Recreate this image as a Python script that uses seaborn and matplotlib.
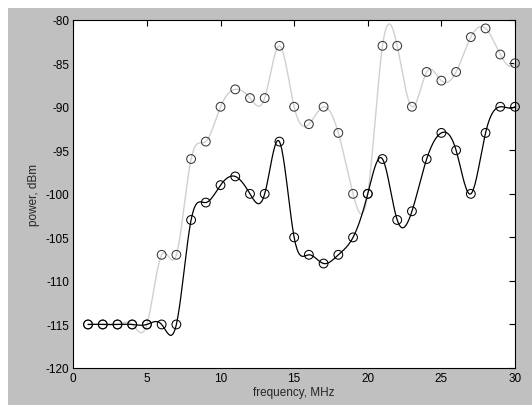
import matplotlib
matplotlib.use("Agg")
import matplotlib.pyplot as plt
import numpy as np
import pandas as pd
import seaborn as sns

freq = list(range(1, 31))
power_a = [-115, -115, -115, -115, -115, -107, -107, -96, -94, -90,
           -88, -89, -89, -83, -90, -92, -90, -93, -100, -100,
           -83, -83, -90, -86, -87, -86, -82, -81, -84, -85]
power_b = [-115, -115, -115, -115, -115, -115, -115, -103, -101, -99,
           -98, -100, -100, -94, -105, -107, -108, -107, -105, -100,
           -96, -103, -102, -96, -93, -95, -100, -93, -90, -90]


def spline(x, y, xs):
    # cubic spline, not-a-knot ends (like matlab spline)
    x = np.asarray(x, float)
    y = np.asarray(y, float)
    n = len(x)
    h = np.diff(x)
    A = np.zeros((n, n))
    r = np.zeros(n)
    for i in range(1, n - 1):
        A[i, i - 1] = h[i - 1]
        A[i, i] = 2 * (h[i - 1] + h[i])
        A[i, i + 1] = h[i]
        r[i] = 6 * ((y[i + 1] - y[i]) / h[i] - (y[i] - y[i - 1]) / h[i - 1])
    A[0, 0], A[0, 1], A[0, 2] = h[1], -(h[0] + h[1]), h[0]
    A[-1, -3], A[-1, -2], A[-1, -1] = h[-1], -(h[-2] + h[-1]), h[-2]
    M = np.linalg.solve(A, r)
    idx = np.clip(np.searchsorted(x, xs) - 1, 0, n - 2)
    hi = h[idx]
    t = x[idx + 1] - xs
    s = xs - x[idx]
    return (M[idx] * t**3 / (6 * hi) + M[idx + 1] * s**3 / (6 * hi)
            + (y[idx] / hi - M[idx] * hi / 6) * t
            + (y[idx + 1] / hi - M[idx + 1] * hi / 6) * s)


sns.set_style("white")
plt.rcParams['font.family'] = ['Liberation Sans', 'DejaVu Sans']
plt.rcParams['axes.unicode_minus'] = False

fig = plt.figure(figsize=(5.32, 4.06), dpi=100)
fig.patch.set_facecolor("white")
fig.patches.append(plt.Rectangle((8 / 532, 0), 1, 1 - 9 / 406, transform=fig.transFigure,
                                 facecolor="#c0c0c0", edgecolor="none", zorder=-10))
ax = fig.add_axes([73.3 / 532, 1 - 369 / 406, (515 - 73.3) / 532, (369 - 20.7) / 406])
ax.set_facecolor("white")

xs = np.linspace(1, 30, 600)
curves = pd.DataFrame({"x": np.concatenate([xs, xs]),
                       "y": np.concatenate([spline(freq, power_a, xs), spline(freq, power_b, xs)]),
                       "s": ["a"] * len(xs) + ["b"] * len(xs)})
pts = pd.DataFrame({"x": freq + freq, "y": power_a + power_b,
                    "s": ["a"] * len(freq) + ["b"] * len(freq)})

sns.lineplot(data=curves[curves.s == "a"], x="x", y="y", color="#d0d0d0", lw=1.0,
             estimator=None, sort=False, ax=ax)
sns.lineplot(data=curves[curves.s == "b"], x="x", y="y", color="black", lw=0.9,
             estimator=None, sort=False, ax=ax)
for s, ec in [("a", "#383838"), ("b", "black")]:
    d = pts[pts.s == s]
    ax.scatter(d.x, d.y, s=40, facecolors="none", edgecolors=ec, linewidths=0.75, zorder=3,
               clip_on=False)

ax.set_xlim(0, 30)
ax.set_ylim(-120, -80)
ax.set_xticks(range(0, 31, 5))
ax.set_yticks(range(-120, -79, 5))
ax.tick_params(direction="in", length=4, width=0.8, top=True, right=True,
               labelsize=8.5, pad=3, colors="black")
for sp in ax.spines.values():
    sp.set_visible(True)
    sp.set_color("black")
    sp.set_linewidth(0.8)
ax.set_xlabel("frequency, MHz", fontsize=8.5, labelpad=1)
ax.set_ylabel("power, dBm", fontsize=8.5, labelpad=4)

fig.savefig("out.png", dpi=100, facecolor=fig.get_facecolor())
